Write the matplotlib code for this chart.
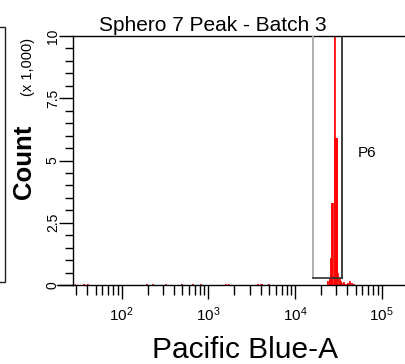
import matplotlib
matplotlib.use('Agg')
import matplotlib.pyplot as plt
from matplotlib.ticker import LogLocator, FixedLocator, NullFormatter, FixedFormatter
from matplotlib.patches import Rectangle
import matplotlib.transforms as mtransforms

plt.rcParams['font.family'] = ['Liberation Sans', 'DejaVu Sans']
plt.rcParams['mathtext.fontset'] = 'custom'
plt.rcParams['mathtext.rm'] = 'Liberation Sans'
plt.rcParams['mathtext.it'] = 'Liberation Sans:italic'
plt.rcParams['mathtext.bf'] = 'Liberation Sans:bold'

title = "Sphero 7 Peak - Batch 3"
x_label = "Pacific Blue-A"
y_label = "Count"
y_scale_note = "(x 1,000)"
gate_name = "P6"

# Histogram: bin centres (Pacific Blue-A) and event counts
bin_centres = [29, 36, 40, 195, 229, 317, 493, 661, 817, 1560, 1700,
               3650, 3950, 4160, 4890,
               24000, 24700, 25300, 26000, 26700, 27400, 28200, 28900,
               29700, 30500, 31300, 32200, 33000, 33900, 34800,
               36700, 38600, 40700, 42900, 45300, 47800]
counts = [60, 50, 60, 40, 60, 50, 60, 60, 40, 50, 50,
          60, 60, 60, 50,
          150, 200, 250, 1100, 3300, 3300, 5900, 12000,
          5900, 5900, 500, 300, 200, 150, 100,
          120, 60, 100, 150, 80, 40]

# Gate P6 limits and level
gate_low = 16100
gate_high = 34700
gate_level = 280
gate_label_pos = (67600, 5300)

y_ticks = [0, 2500, 5000, 7500, 10000]
y_tick_labels = ["0", "2.5", "5", "7.5", "10"]
x_limits = (27.5, 262144)
y_limits = (0, 10000)

W, H = 405, 364
fig = plt.figure(figsize=(W / 100, H / 100), dpi=100)
ax = fig.add_axes([73 / W, 79 / H, 345 / W, 249 / H])
ax.set_xscale('log')
ax.set_xlim(*x_limits)
ax.set_ylim(*y_limits)

bin_w = 0.0115  # log10 bin width
f = 10 ** (bin_w / 2)
lefts = [c / f for c in bin_centres]
rights = [c * f for c in bin_centres]
widths = [r - l for l, r in zip(lefts, rights)]
ax.bar(lefts, counts, width=widths, align='edge', color='#ff7070',
       edgecolor='none', linewidth=0, zorder=2)
# outline of each bin
for l, r, c in zip(lefts, rights, counts):
    ax.plot([l, l, r, r], [0, c, c, 0], color='#ff0000', lw=0.6, zorder=2.5)

# gate
ax.plot([gate_low, gate_low], [gate_level, y_limits[1]], color='#a8a8a8', lw=1.3, zorder=3)
ax.plot([gate_high, gate_high], [gate_level, y_limits[1]], color='#202020', lw=1.2, zorder=3)
ax.plot([gate_low, gate_high], [gate_level, gate_level], color='#303030', lw=1.2, zorder=3)
ax.text(gate_label_pos[0], gate_label_pos[1], gate_name, ha='center', va='center', fontsize=11)

for s in ['left', 'bottom', 'top', 'right']:
    ax.spines[s].set_linewidth(1.0)
    ax.spines[s].set_color('black')

ax.xaxis.set_major_locator(LogLocator(base=10, numticks=10))
ax.xaxis.set_minor_locator(LogLocator(base=10, subs=[2, 3, 4, 5, 6, 7, 8, 9], numticks=20))
ax.xaxis.set_minor_formatter(NullFormatter())
ax.tick_params(axis='x', which='major', direction='out', length=10, width=1, labelsize=11, pad=5)
ax.tick_params(axis='x', which='minor', direction='out', length=7, width=1)

ax.yaxis.set_major_locator(FixedLocator(y_ticks))
ax.yaxis.set_major_formatter(FixedFormatter(y_tick_labels))
ax.yaxis.set_minor_locator(FixedLocator(list(range(0, 10001, 500))))
ax.tick_params(axis='y', which='major', direction='out', length=10, width=1, labelsize=10, pad=-0.5)
ax.tick_params(axis='y', which='minor', direction='out', length=6, width=1)
for lab in ax.get_yticklabels():
    lab.set_rotation(90)
    lab.set_va('center')

# extended zero tick
trans = mtransforms.blended_transform_factory(fig.transFigure, ax.transData)
ax.plot([57 / W, 73 / W], [0, 0], color='black', lw=1.0, transform=trans, clip_on=False)

fig.text(213 / W, 1 - 31 / H, title, ha='center', va='baseline', fontsize=15)
fig.text(245 / W, 1 - 358 / H, x_label, ha='center', va='baseline', fontsize=21.5)
fig.text(31 / W, 1 - 162 / H, y_label, rotation=90, rotation_mode='anchor',
         ha='center', va='baseline', fontsize=18.5, fontweight='bold')
fig.text(32 / W, 1 - 67 / H, y_scale_note, rotation=90, rotation_mode='anchor',
         ha='center', va='baseline', fontsize=10.5)

fig.add_artist(Rectangle((-0.05, (H - 282) / H), 0.05 + 5 / W, (282 - 27) / H,
                         transform=fig.transFigure, fill=False, edgecolor='#202020',
                         lw=1.0, clip_on=False))

fig.savefig('out.png', dpi=100)
